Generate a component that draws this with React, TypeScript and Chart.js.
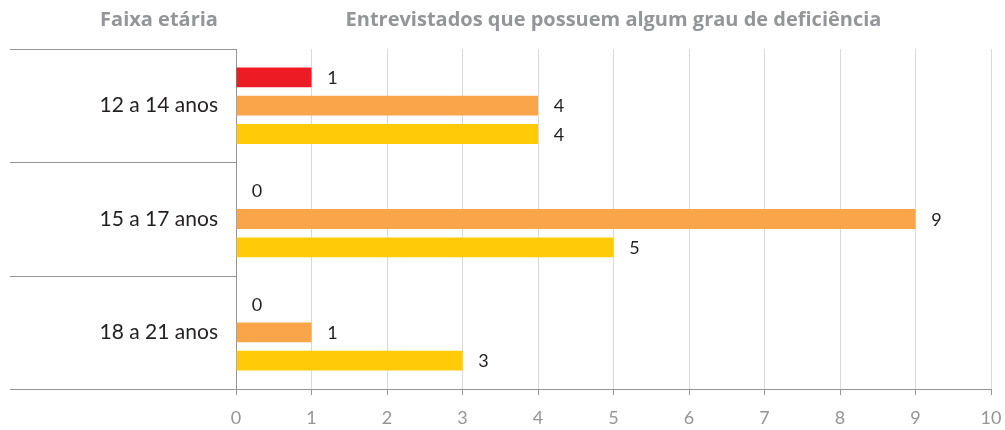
import React, { useEffect, useRef } from "react";
import { Chart, registerables } from "chart.js";

Chart.register(...registerables);

const categories = ["12 a 14 anos", "15 a 17 anos", "18 a 21 anos"];
const seriesRed = [1, 0, 0];
const seriesOrange = [4, 9, 1];
const seriesYellow = [4, 5, 3];
const xTicks = [0, 1, 2, 3, 4, 5, 6, 7, 8, 9, 10];
const leftTitle = "Faixa etária";
const mainTitle = "Entrevistados que possuem algum grau de deficiência";

const FONT = "Lato, 'Open Sans', sans-serif";
const TITLE_FONT = "'Open Sans', Lato, sans-serif";
const GRAY = "#939598";
const DARK = "#231f20";

const decorPlugin = {
  id: "decor",
  afterDraw(chart: any) {
    const { ctx, chartArea } = chart;
    const y = chart.scales.y;
    ctx.save();
    // titles
    ctx.fillStyle = GRAY;
    ctx.font = `bold 20px ${TITLE_FONT}`;
    ctx.textAlign = "center";
    ctx.textBaseline = "middle";
    ctx.fillText(leftTitle, 159, 20);
    ctx.fillText(mainTitle, (chartArea.left + chartArea.right) / 2, 20);
    // category separators
    ctx.strokeStyle = GRAY;
    ctx.lineWidth = 1;
    const n = categories.length;
    for (let i = 0; i <= n; i++) {
      const py = Math.round(y.getPixelForValue(i - 0.5)) + 0.5;
      ctx.beginPath();
      ctx.moveTo(10, py);
      ctx.lineTo(chartArea.left, py);
      ctx.stroke();
    }
    // data labels
    ctx.fillStyle = DARK;
    ctx.font = `18px ${FONT}`;
    ctx.textAlign = "center";
    chart.data.datasets.forEach((ds: any, di: number) => {
      const meta = chart.getDatasetMeta(di);
      meta.data.forEach((bar: any, i: number) => {
        const v = ds.data[i];
        ctx.fillText(String(v), bar.x + 21, bar.y + 1);
      });
    });
    ctx.restore();
  },
};

export default function App() {
  const ref = useRef<HTMLCanvasElement | null>(null);
  useEffect(() => {
    if (!ref.current) return;
    const chart = new Chart(ref.current, {
      type: "bar",
      data: {
        labels: categories,
        datasets: [
          { label: "Série 1", data: seriesRed, backgroundColor: "#ed1c24" },
          { label: "Série 2", data: seriesOrange, backgroundColor: "#f9a54a" },
          { label: "Série 3", data: seriesYellow, backgroundColor: "#ffcb08" },
        ],
      },
      options: {
        indexAxis: "y",
        animation: false,
        responsive: false,
        maintainAspectRatio: false,
        layout: { padding: { top: 49, right: 14, left: 0, bottom: 0 } },
        datasets: { bar: { categoryPercentage: 0.75, barPercentage: 0.7 } },
        plugins: { legend: { display: false }, tooltip: { enabled: false }, title: { display: false } },
        scales: {
          x: {
            min: 0,
            max: 10,
            afterBuildTicks: (s: any) => {
              s.ticks = xTicks.map((v) => ({ value: v }));
            },
            afterFit: (s: any) => {
              s.height = 41;
              s.paddingLeft = 0;
              s.paddingRight = 0;
            },
            grid: { color: "#d9d9d9", tickColor: GRAY, tickLength: 6, lineWidth: 1 },
            border: { color: GRAY, width: 1 },
            ticks: { color: GRAY, font: { family: FONT, size: 18 }, padding: 12 },
          },
          y: {
            afterFit: (s: any) => {
              s.width = 236;
              s.paddingTop = 0;
              s.paddingBottom = 0;
            },
            grid: { display: false },
            border: { color: GRAY, width: 1 },
            ticks: { color: DARK, font: { family: FONT, size: 21 }, padding: 10 },
          },
        },
      },
      plugins: [decorPlugin],
    });
    return () => chart.destroy();
  }, []);
  return (
    <div style={{ position: "fixed", left: 0, top: 0, width: 1005, height: 430, background: "#fff" }}>
      <canvas ref={ref} width={1005} height={430} style={{ width: 1005, height: 430 }} />
    </div>
  );
}
